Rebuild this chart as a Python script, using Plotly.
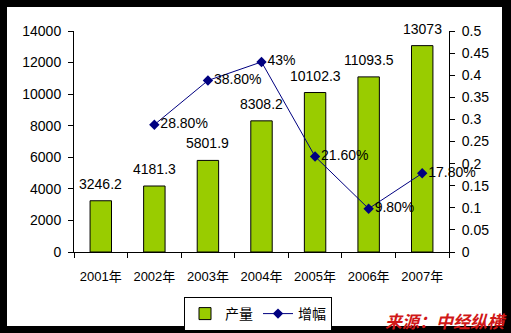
import plotly.graph_objects as go

categories = ["2001年", "2002年", "2003年", "2004年", "2005年", "2006年", "2007年"]
output_values = [3246.2, 4181.3, 5801.9, 8308.2, 10102.3, 11093.5, 13073]
output_labels = ["3246.2", "4181.3", "5801.9", "8308.2", "10102.3", "11093.5", "13073"]
growth_categories = ["2002年", "2003年", "2004年", "2005年", "2006年", "2007年"]
growth_values = [0.288, 0.388, 0.43, 0.216, 0.098, 0.178]
growth_labels = ["28.80%", "38.80%", "43%", "21.60%", "9.80%", "17.80%"]

W, H = 511, 333
ml, mr, mt, mb = 74, 62, 31, 81
pw, ph = W - ml - mr, H - mt - mb

def px_x(x):
    return (x - ml) / pw

def px_y(y):
    return (H - mb - y) / ph

FONT = "Liberation Sans, Arial, Noto Sans CJK SC, sans-serif"
FS = 14

fig = go.Figure()
fig.add_trace(go.Bar(
    x=categories, y=output_values, name="产量",
    marker=dict(color="#99CC00", line=dict(color="black", width=1)),
    width=0.4, yaxis="y",
))
fig.add_trace(go.Scatter(
    x=growth_categories, y=growth_values, name="增幅", yaxis="y2",
    mode="lines+markers+text", cliponaxis=False,
    line=dict(color="#000080", width=1),
    marker=dict(symbol="diamond", size=8, color="#000080"),
    text=growth_labels, textposition="middle right",
    textfont=dict(family=FONT, size=FS, color="black"),
))

for c, v, t in zip(categories, output_values, output_labels):
    fig.add_annotation(x=c, y=v, xref="x", yref="y", text=t, showarrow=False,
                       yanchor="bottom", yshift=7,
                       font=dict(family=FONT, size=FS, color="black"))

fig.add_annotation(x=px_x(509), y=px_y(320), xref="paper", yref="paper",
                   text="<b><i>来源：中经纵横</i></b>", showarrow=False,
                   xanchor="right", yanchor="middle",
                   font=dict(family="Noto Sans CJK SC, sans-serif", size=17, color="#D01818"))

# white inner panel over the black frame
fig.add_shape(type="rect", xref="paper", yref="paper", layer="below",
              x0=px_x(7), x1=px_x(502), y0=px_y(326), y1=px_y(7),
              fillcolor="white", line=dict(width=0))

fig.update_layout(
    width=W, height=H,
    margin=dict(l=ml, r=mr, t=mt, b=mb, pad=0, autoexpand=False),
    paper_bgcolor="black", plot_bgcolor="rgba(0,0,0,0)",
    font=dict(family=FONT, size=FS, color="black"),
    showlegend=True,
    legend=dict(orientation="h", xref="container", yref="container",
                x=184 / W, y=1 - 297 / H, xanchor="left", yanchor="top",
                bordercolor="black", borderwidth=1, bgcolor="white",
                font=dict(family=FONT, size=FS, color="black"),
                itemwidth=30),
    xaxis=dict(type="category", showline=True, linecolor="black", linewidth=1,
               ticks="outside", tickson="boundaries", ticklen=5, tickcolor="black",
               showgrid=False, tickfont=dict(size=13), tickangle=0, ticklabelstandoff=12),
    yaxis=dict(range=[0, 14000], dtick=2000, tickformat="d", showline=True,
               linecolor="black", linewidth=1, ticks="outside", ticklen=5,
               tickcolor="black", showgrid=False, zeroline=False, tickfont=dict(size=FS),
               ticklabelstandoff=4),
    yaxis2=dict(range=[0, 0.5], tickvals=[0, 0.05, 0.1, 0.15, 0.2, 0.25, 0.3, 0.35, 0.4, 0.45, 0.5],
                ticktext=["0", "0.05", "0.1", "0.15", "0.2", "0.25", "0.3", "0.35", "0.4", "0.45", "0.5"],
                overlaying="y", side="right", showline=True, linecolor="black", linewidth=1,
                ticks="outside", ticklen=5, tickcolor="black", showgrid=False, zeroline=False,
                tickfont=dict(size=FS), ticklabelstandoff=4),
)

fig.write_html("out.html", config={"displayModeBar": False})
